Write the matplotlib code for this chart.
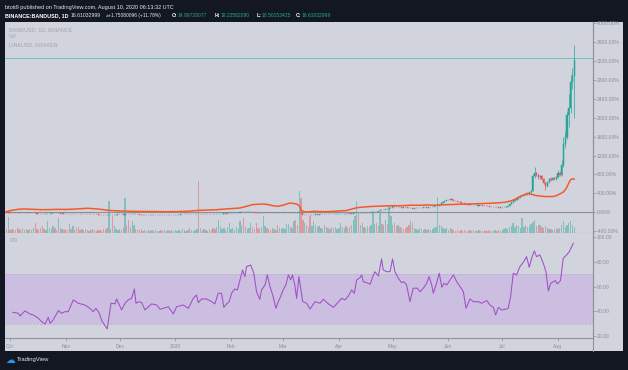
import numpy as np
import pandas as pd
import matplotlib
matplotlib.use("Agg")
import matplotlib.pyplot as plt
from matplotlib.lines import Line2D
from matplotlib.patches import Rectangle

plt.rcParams['font.family'] = ['Liberation Sans', 'DejaVu Sans']

# ------------------------------------------------------------------ data
start_date = "2019-09-28"
origin_date = "2019-10-01"

# BANDUSD daily close, % change vs first bar (comparison mode)
band_close_sep = [0, -6, -2]
band_close_oct = [-10, -12, -15, -14, -18, -20, -17, -19, -22, -20, -18, -21, -24, -22, -25, -28,
                  -26, -30, -32, -35, -33, -30, -28, -25, -15, -18, -22, -19, -26, -25, -27]
band_close_nov = [-28, -30, -27, -35, -33, -30, -32, -36, -38, -35, -37, -40, -42, -40, -43,
                  -45, -44, -46, -48, -50, -52, -55, -58, -60, -50, -47, -53, -50, -47, -46]
band_close_dec = [-44, -45, -47, -40, -42, -44, -40, -38, -35, -40, -44, -47, -50, -51, -53, -52,
                  -54, -53, -51, -50, -51, -53, -52, -55, -54, -52, -50, -53, -55, -54, -52]
band_close_jan = [-50, -48, -47, -45, -46, -44, -42, -40, -41, -43, -40, -38, -36, -40, -38, -36,
                  -37, -34, -32, -30, -31, -33, -35, -32, -30, -28, -26, -25, -27, -24, -22]
band_close_feb = [-20, -17, -13, -10, -6, -2, 3, 0, -4, -2, 3, 5, 0, -5, -10, -12, -15, -13, -10,
                  -8, -12, -15, -20, -18, -15, -20, -24, -22, -20]
band_close_mar = [-18, -15, -12, -10, -13, -8, -5, -12, -18, -2, -20, -55, -50, -52, -48, -56,
                  -50, -47, -45, -48, -46, -44, -42, -45, -43, -40, -42, -44, -41, -40, -38]
band_close_apr = [-36, -35, -33, -30, -32, -28, -25, -27, -24, -22, -12, -15, -10, -12, -8, -10,
                  -5, -8, -2, 0, 5, 2, 20, 45, 40, 55, 70, 65, 85, 95]
band_close_may = [130, 120, 110, 115, 105, 100, 110, 105, 95, 85, 92, 80, 82, 90, 95, 100, 98,
                  105, 110, 100, 108, 115, 120, 125, 135, 140, 160, 200, 215, 230, 250]
band_close_jun = [260, 275, 265, 245, 235, 225, 215, 205, 190, 185, 160, 170, 160, 150, 155, 145,
                  140, 150, 148, 140, 135, 130, 125, 120, 115, 110, 115, 112, 100, 105]
band_close_jul = [110, 115, 120, 135, 170, 210, 240, 260, 290, 320, 350, 360, 370, 390, 380, 420,
                  450, 760, 830, 780, 740, 760, 700, 620, 560, 650, 700, 690, 720, 700, 740]
band_close_aug = [840, 790, 1000, 1450, 1600, 2050, 2200, 2750, 2879, 3222]

# wicks for the Jul-Aug candles (earlier wicks are sub-pixel)
band_high_jul = [118, 122, 128, 142, 180, 220, 250, 272, 300, 335, 362, 372, 385, 402, 405, 430,
                 470, 800, 950, 860, 800, 790, 780, 720, 650, 670, 725, 740, 750, 740, 770]
band_low_jul = [100, 105, 110, 115, 130, 165, 200, 230, 255, 285, 310, 335, 350, 360, 368, 375,
                410, 440, 730, 760, 715, 700, 680, 600, 480, 545, 630, 660, 675, 685, 690]
band_high_aug = [900, 880, 1100, 1600, 1720, 2150, 2500, 2900, 3050, 3545]
band_low_aug = [720, 760, 770, 950, 1350, 1550, 1800, 2100, 2600, 2000]

# daily volume (relative units)
vol_sep = [5, 4, 16]
vol_oct = [3, 4, 3, 3, 5, 4, 3, 5, 3, 4, 3, 4, 3, 5, 10, 4, 3, 5, 7, 4, 3, 12, 5, 4, 7, 5, 3, 15,
           5, 4, 3]
vol_nov = [4, 3, 9, 4, 7, 3, 5, 6, 3, 4, 3, 4, 3, 2, 3, 4, 3, 2, 3, 3, 2, 4, 3, 5, 32, 4, 17, 7,
           4, 3]
vol_dec = [4, 3, 5, 35, 8, 13, 6, 12, 8, 4, 3, 3, 4, 2, 3, 2, 3, 2, 3, 2, 3, 2, 2, 3, 2, 3, 2, 3,
           2, 3, 2]
vol_jan = [3, 2, 3, 2, 4, 3, 2, 3, 5, 3, 2, 3, 4, 52, 5, 3, 4, 3, 2, 4, 3, 5, 4, 6, 13, 7, 4, 5,
           3, 6, 10]
vol_feb = [4, 5, 3, 6, 4, 12, 8, 15, 6, 4, 5, 10, 6, 4, 10, 5, 4, 6, 17, 7, 5, 4, 3, 5, 4, 3, 8,
           5, 4]
vol_mar = [5, 4, 9, 9, 6, 5, 12, 13, 8, 42, 35, 13, 10, 8, 6, 17, 7, 12, 8, 6, 7, 5, 4, 8, 6, 5,
           4, 6, 5, 6, 4]
vol_apr = [5, 10, 6, 5, 7, 5, 6, 8, 13, 17, 32, 20, 8, 10, 6, 5, 7, 6, 8, 20, 9, 10, 7, 20, 9, 8,
           13, 9, 27, 17]
vol_may = [8, 10, 7, 8, 6, 5, 4, 5, 6, 8, 12, 10, 5, 4, 3, 5, 4, 3, 4, 3, 4, 3, 4, 5, 6, 36, 8,
           7, 5, 4, 5]
vol_jun = [3, 5, 4, 3, 2, 3, 2, 3, 2, 3, 2, 2, 3, 2, 3, 2, 2, 3, 2, 2, 3, 2, 2, 3, 2, 2, 3, 2, 3,
           2]
vol_jul = [3, 4, 5, 4, 6, 7, 10, 6, 8, 7, 5, 15, 6, 8, 6, 7, 9, 11, 13, 7, 8, 8, 6, 5, 7, 5, 4, 4,
           3, 4, 5]
vol_aug = [4, 5, 8, 12, 6, 8, 10, 12, 8, 6]

# LINKUSD comparison line (% change), sampled: days since 2019-10-01
link_day = [-3, -1, 2, 5, 8, 13, 18, 22, 27, 31, 37, 43, 47, 50, 55, 60, 65, 69, 75, 81, 87, 93,
            98, 103, 106, 110, 115, 120, 124, 128, 131, 135, 138, 141, 144, 146, 149, 152, 155.8,
            158, 159.5, 161.3, 162, 164, 166, 169, 173, 176, 180, 184, 187, 189, 191, 193, 195,
            198, 202, 206, 209, 213, 217, 221, 224, 228, 232, 236, 240, 244, 248, 252, 256, 260,
            264, 268, 272, 275, 277, 279, 281, 283, 285, 287, 288, 290, 292, 294, 296, 298, 300,
            302, 304, 306, 308, 309.5, 311, 312, 313, 314]
link_pct = [0, 27, 49, 65, 70, 62, 55, 58, 62, 60, 70, 85, 75, 65, 40, 30, 25, 20, 18, 15, 13, 15,
            20, 35, 42, 48, 55, 70, 80, 91, 120, 162, 170, 176, 160, 141, 127, 150, 197,
            185, 176, 127, 42, 6, 10, 20, 15, 13, 20, 30, 35, 55, 78, 95, 106,
            115, 125, 130, 135, 140, 138, 145, 150, 148, 155, 150, 158, 162, 168, 172, 176, 182,
            186, 192, 200, 210, 225, 245, 275, 315, 350, 385, 402, 385, 360, 348, 340, 331, 335,
            331, 350, 388, 430, 500, 620, 690, 712, 700]

# RSI(14), sampled: days since 2019-10-01
rsi_day = [1.5, 4.6, 5.6, 8.3, 11.1, 13, 15.8, 17.6, 19.5, 21.3, 22.3, 24, 26.9, 28.7, 30.6, 32.4,
           35.2, 38, 41.7, 44.5, 46.3, 47.8, 49.7, 51, 54.1, 56.2, 58.4, 59.3, 62.1, 64, 65.8,
           67.7, 69.2, 70.1, 71.9, 73.3, 75.1, 77, 78.8, 81.6, 83.5, 85.3, 88.1, 90.9, 92.7,
           96.4, 99.2, 102, 103.8, 104.8, 106.6, 109.4, 112.2, 114, 115.9, 117.7, 119, 120.5,
           122, 123.3, 125.1, 126.5, 128, 129.4, 130.7, 131.6, 133.9, 135.7, 137.2, 139, 140,
           141.9, 143.2, 144.6, 146.2, 148, 149.3, 150.2, 152, 153.5, 154.9, 156.2, 157.2, 158.5,
           159.5, 160.8, 162.9, 165.1, 167, 169.8, 172.5, 174.4, 177.2, 180, 181.8, 184.6, 186.4,
           188.3, 190.1, 191.6, 192.9, 194.8, 195.7, 196.6, 198.5, 200.4, 201.9, 203.1, 205,
           206.8, 207.7, 209.6, 211.5, 212.9, 214.2, 216.1, 217.9, 219.2, 220.7, 222.6, 224.4,
           226.7, 228.2, 230, 231.9, 233.2, 234.7, 235.6, 237.4, 238.9, 240.3, 241.6, 243.1,
           244.9, 246.8, 248.6, 250.5, 252.3, 253.8, 256, 257.9, 260.7, 262.5, 265.3, 267.1, 269,
           270.3, 271.8, 273.6, 275.5, 277.3, 278.6, 280.1, 281.9, 283.8, 286, 287.5, 289, 290.3,
           291.8, 293.1, 294.9, 296.8, 298.3, 299.6, 300.9, 302.4, 303.5, 304.6, 306.4, 307.9,
           309.8, 311.3, 312.6, 313.5]
rsi_val = [39.2, 38.4, 36.2, 40.3, 37.8, 37, 34.3, 31.6, 29.7, 35.1, 30.2, 33, 40.5, 38.4, 39.7,
           39.7, 49.2, 46.5, 45.1, 42.4, 39.7, 42.4, 38.4, 32.5, 25.7, 46.5, 46, 50, 41.1, 46.5,
           49.2, 50.5, 58.1, 46.5, 47.8, 47, 41.1, 43.7, 46, 45.1, 41.6, 42.4, 43.7, 37.8, 43.7,
           45.1, 42.4, 50.5, 53.2, 47, 50, 50, 47.8, 46, 54.6, 54.6, 43.2, 46, 47.8, 54.6, 58.1,
           57.3, 65.4, 73.5, 68.1, 76.2, 77.5, 70.8, 55.9, 49.7, 57.3, 61.3, 69.5, 60.5, 53.2,
           42.4, 47.8, 50.5, 57.3, 61.3, 69.5, 65.4, 69.5, 61.3, 50.5, 68.1, 47.8, 46.5, 41.9,
           47.8, 46.5, 49.7, 46, 43.2, 46, 50.5, 49.2, 52.4, 57.3, 54.6, 65.4, 67.3, 69.5, 64,
           63.2, 61.9, 68.1, 72.1, 68.6, 82.4, 73.5, 72.1, 72.1, 82.4, 72.1, 66.8, 63.2, 64, 61.3,
           47.8, 58.7, 58.7, 55.9, 58.7, 62.7, 68.1, 61.3, 54.6, 62.7, 70.8, 59.5, 62.7, 61.3,
           65.4, 69.5, 64, 60, 55.9, 42.4, 50, 47.8, 47.8, 46.5, 48.7, 45.1, 43.2, 37, 43.2, 41.1,
           41.6, 42.4, 51.9, 70.8, 69.5, 76.2, 80.3, 84.3, 75.7, 83, 88.9, 84.3, 85.7, 78.9, 72.1,
           56.5, 62.7, 64, 64.9, 62.2, 64.9, 83, 85.7, 88.4, 92.4, 95.1]

hline_level = 3259
price_ticks = [-400, 0, 400, 800, 1200, 1600, 2000, 2400, 2800, 3200, 3600, 4000]
rsi_ticks = [20, 40, 60, 80, 100]
month_labels = ["Oct", "Nov", "Dec", "2020", "Feb", "Mar", "Apr", "May", "Jun", "Jul", "Aug"]

# ------------------------------------------------------------------ prep
close = np.array(band_close_sep + band_close_oct + band_close_nov + band_close_dec +
                 band_close_jan + band_close_feb + band_close_mar + band_close_apr +
                 band_close_may + band_close_jun + band_close_jul + band_close_aug, float)
volume = np.array(vol_sep + vol_oct + vol_nov + vol_dec + vol_jan + vol_feb + vol_mar + vol_apr +
                  vol_may + vol_jun + vol_jul + vol_aug, float)
n = min(len(close), len(volume))
close = close[:n]
volume = volume[:n]
dates = pd.date_range(start_date, periods=n, freq="D")
origin = pd.Timestamp(origin_date)
xd = np.array((dates - origin).days, float)
opn = np.concatenate([[close[0]], close[:-1]])
up = close >= opn

high_w = np.array(band_high_jul + band_high_aug, float)
low_w = np.array(band_low_jul + band_low_aug, float)
xw = xd[-len(high_w):]
upw = up[-len(high_w):]

TEAL = "#26a69a"
RED = "#ef5350"
BG = "#d1d4dc"
DARK = "#131722"
AXC = "#8f929b"
TXT = "#8a8d96"

W, H = 628, 370
fig = plt.figure(figsize=(W / 100, H / 100), dpi=100, facecolor=DARK)


def fx(px):
    return px / W


def fy(py):
    return 1 - py / H


# chart panel background
fig.patches.append(Rectangle((fx(5), fy(351)), fx(623) - fx(5), fy(22) - fy(351),
                             transform=fig.transFigure, facecolor=BG, edgecolor="none",
                             zorder=-10))

L, R = 5, 592.7
T_MAIN, B_MAIN, B_RSI = 22, 232.7, 338.3
xlim = (-2.8, 324.3)

rect_main = [fx(L), fy(B_MAIN), fx(R) - fx(L), fy(T_MAIN) - fy(B_MAIN)]
rect_rsi = [fx(L), fy(B_RSI), fx(R) - fx(L), fy(B_MAIN) - fy(B_RSI)]

# volume axes (behind)
vax = fig.add_axes(rect_main)
vax.set_zorder(1)
vax.set_facecolor(BG)
vcol = np.where(up, TEAL, RED)
vax.bar(xd, volume, width=0.75, color=vcol, alpha=0.45, linewidth=0)
vax.set_xlim(*xlim)
vax.set_ylim(0, max(volume) / 0.247)
vax.set_xticks([])
vax.set_yticks([])
for s in vax.spines.values():
    s.set_visible(False)

ax = fig.add_axes(rect_main)
ax.set_zorder(2)
ax.patch.set_alpha(0)
ax.set_xlim(*xlim)
ax.set_ylim(-432, 4027)

# candles
ccol = np.where(up, TEAL, RED)
ax.vlines(xw, low_w, high_w, colors=np.where(upw, TEAL, RED), linewidth=0.5, zorder=3)
body_h = np.abs(close - opn)
ax.bar(xd, body_h, bottom=np.minimum(close, opn), width=0.6, color=ccol, edgecolor=ccol,
       linewidth=0.35, zorder=3.5)

# LINK comparison line
ax.plot(link_day, link_pct, color="#f5592b", linewidth=1.1, zorder=4, solid_joinstyle="round")

# zero line and horizontal line tool
ax.axhline(0, color="#8c8f98", linewidth=0.8, zorder=2)
ax.axhline(hline_level, color="#62bdb3", linewidth=0.6, zorder=2)

for s in ["top", "left"]:
    ax.spines[s].set_visible(False)
for s in ["right", "bottom"]:
    ax.spines[s].set_color(AXC)
    ax.spines[s].set_linewidth(0.8)
ax.set_xticks([])
ax.yaxis.tick_right()
ax.set_yticks(price_ticks)
ax.set_yticklabels([f"{v:.2f}%" for v in price_ticks])
ax.tick_params(axis="y", length=1.8, width=0.5, colors=AXC, pad=1.2, labelsize=3.6,
               labelcolor=TXT)

# RSI pane
rax = fig.add_axes(rect_rsi)
rax.set_zorder(2)
rax.set_facecolor(BG)
rax.set_xlim(*xlim)
rax.set_ylim(18.1, 103.7)
rax.axhspan(30, 70, facecolor="#cbbee0", edgecolor="none", zorder=1)
rax.axhline(70, color="#b9abd3", linewidth=0.5, linestyle=(0, (3, 2)), zorder=1.5)
rax.axhline(30, color="#b9abd3", linewidth=0.5, linestyle=(0, (3, 2)), zorder=1.5)
rax.plot(rsi_day, rsi_val, color="#a04fc6", linewidth=0.75, zorder=3)
for s in ["top", "left"]:
    rax.spines[s].set_visible(False)
for s in ["right", "bottom"]:
    rax.spines[s].set_color(AXC)
    rax.spines[s].set_linewidth(0.8)
rax.yaxis.tick_right()
rax.set_yticks(rsi_ticks)
rax.set_yticklabels([f"{v:.2f}" for v in rsi_ticks])
rax.tick_params(axis="y", length=1.8, width=0.5, colors=AXC, pad=1.2, labelsize=3.6,
                labelcolor=TXT)
months = pd.date_range("2019-10-01", "2020-08-01", freq="MS")
mx = np.array((months - origin).days, float)
rax.set_xticks(mx)
rax.set_xticklabels(month_labels)
rax.tick_params(axis="x", length=1.8, width=0.5, colors=AXC, pad=2.5, labelsize=3.6,
                labelcolor=TXT)

# price-scale separator through time axis
fig.lines.append(Line2D([fx(R), fx(R)], [fy(T_MAIN), fy(351)], transform=fig.transFigure,
                        color=AXC, linewidth=0.8, zorder=5))

# legend texts
fig.text(fx(8.8), fy(29.3), "BANDUSD, 1D, BINANCE", fontsize=3.9, color="#a1a4ad", va="center",
         zorder=6)
fig.text(fx(8.8), fy(37.0), "Vol", fontsize=3.9, color="#a1a4ad", va="center", zorder=6)
fig.text(fx(8.8), fy(44.7), "LINKUSD, KRAKEN", fontsize=3.9, color="#a1a4ad", va="center",
         zorder=6)
fig.text(fx(10), fy(240), "RSI", fontsize=3.6, color="#a1a4ad", va="center", zorder=6)

# header
fig.text(fx(4.8), fy(7.5), "btott9 published on TradingView.com, August 10, 2020 06:13:32 UTC",
         fontsize=4.0, color="#e6e8ee", va="center")
hdr_y = fy(15.8)
segs = [
    (4.8, "BINANCE:BANDUSD, 1D", "#ffffff", "bold", 3.9),
    (70.2, "16.61032999", "#e6e8ee", "normal", 3.7),
    (104.0, "\u25b2", TEAL, "normal", 3.4),
    (108.3, "+1.75080096 (+11.78%)", "#e6e8ee", "normal", 3.5),
    (171.6, "O:", "#ffffff", "bold", 3.6),
    (177.6, "14.89728077", TEAL, "normal", 3.6),
    (214.6, "H:", "#ffffff", "bold", 3.6),
    (220.6, "18.22582080", TEAL, "normal", 3.6),
    (256.2, "L:", "#ffffff", "bold", 3.6),
    (261.8, "10.50153425", TEAL, "normal", 3.6),
    (296.2, "C:", "#ffffff", "bold", 3.6),
    (302.0, "16.61032999", TEAL, "normal", 3.6),
]
for px, s, c, w, fs in segs:
    fig.text(fx(px), hdr_y, s, fontsize=fs, color=c, fontweight=w, va="center")

# footer logo
fig.text(fx(5), fy(359.5), "\u2601", fontsize=7, color="#2196f3", va="center",
         family=["DejaVu Sans"])
fig.text(fx(16.5), fy(359.5), "TradingView", fontsize=4.2, color="#e6e8ee", va="center")

fig.savefig("out.png", dpi=100, facecolor=DARK)
